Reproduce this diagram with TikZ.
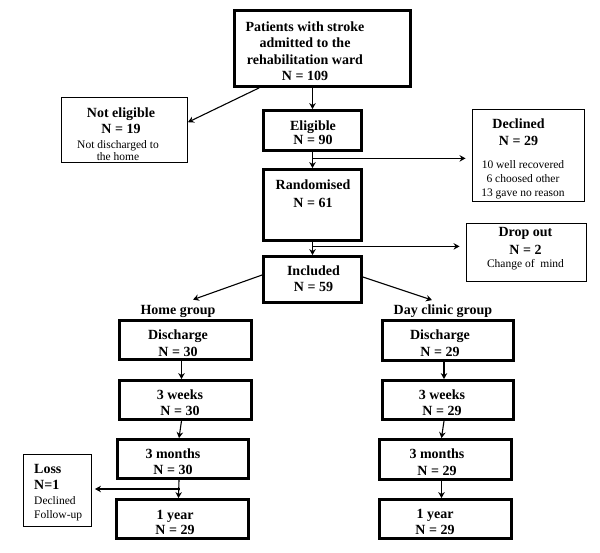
\documentclass[tikz,border=0pt]{standalone}
\usepackage{fontspec}
\setmainfont{Liberation Serif}
\usetikzlibrary{arrows.meta,calc}

\newcommand\hdfont{\fontsize{14}{16.5}\selectfont\bfseries}
\newcommand\smfont{\fontsize{11.5}{14}\selectfont}

\tikzset{
	thickbox/.style={draw, line width=2.8pt, inner sep=0pt},
	thinbox/.style={draw, line width=0.9pt, inner sep=0pt},
	hd/.style={font=\hdfont, align=center, inner sep=0pt, anchor=north},
	sm/.style={font=\smfont, align=center, inner sep=0pt, anchor=north},
	arr/.style={-{Stealth[length=6pt,width=6.5pt]}, line width=1.1pt}
}

\begin{document}
\begin{tikzpicture}[x=1pt,y=-1pt]
		\useasboundingbox (0,0) rectangle (600,553);
		
		% main column
		\node[thickbox, minimum width=176, minimum height=76] (top) at (322.5,48.5) {};
		\node[thickbox, minimum width=98, minimum height=40] (elig) at (312.5,130.5) {};
		\node[thickbox, minimum width=98, minimum height=71] (rand) at (312.5,205) {};
		\node[thickbox, minimum width=98, minimum height=46] (incl) at (312.5,279.5) {};
		
		\node[hd] (toptxt) at (305,21.2) {Patients with stroke\\admitted to the\\rehabilitation ward\\N = 109};
		\node[hd] (eligtxt) at (313,120.5) {Eligible\\[-2.5pt]N = 90};
		\node[hd] (randtxt) at (313,179.8) {Randomised\\[1pt]N = 61};
		\node[hd] (incltxt) at (313.5,265.5) {Included\\N = 59};
		
		% side boxes
		\node[thinbox, minimum width=126, minimum height=65] (noteli) at (124.5,130) {};
		\node[hd] (notelhd) at (121,107.2) {Not eligible\\[-0.5pt]N = 19};
		\node[sm, font=\fontsize{11.5}{12.3}\selectfont] (noteldesc) at (118,139.9) {Not discharged to\\the home};
		
		\node[thinbox, minimum width=112, minimum height=92] (decl) at (528.5,155.5) {};
		\node[hd] (declhd) at (518.5,118.8) {Declined\\N = 29};
		\node[sm] (decldesc) at (523,159.9) {10 well recovered\\6 choosed other\\13 gave no reason};
		
		\node[thinbox, minimum width=120, minimum height=58] (drop) at (526.5,252.5) {};
		\node[hd] (drophd) at (525.5,227.2) {Drop out\\[1pt]N = 2};
		\node[sm] (dropdesc) at (525.5,258.9) {Change of~ mind};
		
		% groups
		\node[font=\hdfont, inner sep=0pt, anchor=base] (homelbl) at (178,315) {Home group};
		\node[font=\hdfont, inner sep=0pt, anchor=base] (daylbl) at (443,315) {Day clinic group};
		
		\node[thickbox, minimum width=132, minimum height=39] (h1) at (185.5,340) {};
		\node[thickbox, minimum width=132, minimum height=39] (h2) at (185.5,400) {};
		\node[thickbox, minimum width=131, minimum height=39] (h3) at (183,459) {};
		\node[thickbox, minimum width=132, minimum height=39] (h4) at (182.5,519) {};
		\node[hd] (h1txt) at (178,330) {Discharge\\N = 30};
		\node[hd] (h2txt) at (180,389.5) {3 weeks\\N = 30};
		\node[hd] (h3txt) at (173,448.5) {3 months\\N = 30};
		\node[hd] (h4txt) at (175,510.5) {1 year\\[-1.5pt]N = 29};
		
		\node[thickbox, minimum width=131, minimum height=40] (d1) at (448,340.5) {};
		\node[thickbox, minimum width=131, minimum height=39] (d2) at (448,400) {};
		\node[thickbox, minimum width=132, minimum height=40] (d3) at (445.5,459.5) {};
		\node[thickbox, minimum width=132, minimum height=39] (d4) at (445.5,519) {};
		\node[hd] (d1txt) at (440,329.8) {Discharge\\N = 29};
		\node[hd] (d2txt) at (442,389.8) {3 weeks\\[-1pt]N = 29};
		\node[hd] (d3txt) at (437,448.8) {3 months\\N = 29};
		\node[hd] (d4txt) at (435,508.8) {1 year\\N = 29};
		
		\node[thinbox, minimum width=68, minimum height=72] (loss) at (57.5,490.5) {};
		\node[hd, align=left, anchor=north west] (losshd) at (34,463.8) {Loss\\N=1};
		\node[sm, align=left, anchor=north west] (lossdesc) at (34,496.5) {Declined\\Follow-up};
		
		% connectors
		\draw[arr] (top.south -| elig.north) -- (elig.north);
		\draw[arr] ($(top.south west)+(26,0)$) -- (noteli.7);
		\draw[arr] (elig.south) -- (rand.north);
		\coordinate (b1) at ($(elig.south)!0.4!(rand.north)$);
		\draw[arr, shorten >=6.5pt] (b1) -- (b1 -| decl.west);
		\draw[arr] (rand.south) -- (incl.north);
		\coordinate (b2) at ($(rand.south)!0.34!(incl.north)$);
		\draw[arr, shorten >=6.5pt] (b2) -- (b2 -| drop.west);
		\draw[arr] ($(incl.west)+(0,-4.5)$) -- ($(homelbl.north)+(15,-6)$);
		\draw[arr] ($(incl.east)+(0,-2.5)$) -- ($(daylbl.north)+(-11,-5)$);
		
		\foreach \a/\b in {h1/h2,h2/h3,h3/h4}
			\draw[arr] ($(\a.south)+(-4,0)$) -- ($(\b.north)+(-4,0)$);
		\foreach \a/\b in {d1/d2,d2/d3,d3/d4}
			\draw[arr] ($(\a.south)+(-4,0)$) -- ($(\b.north)+(-4,0)$);
		\coordinate (b3) at ($(h3.south)!0.5!(h4.north)+(-3,0)$);
		\draw[arr, shorten >=3pt] (b3) -- (b3 -| loss.east);
	\end{tikzpicture}
\end{document}
